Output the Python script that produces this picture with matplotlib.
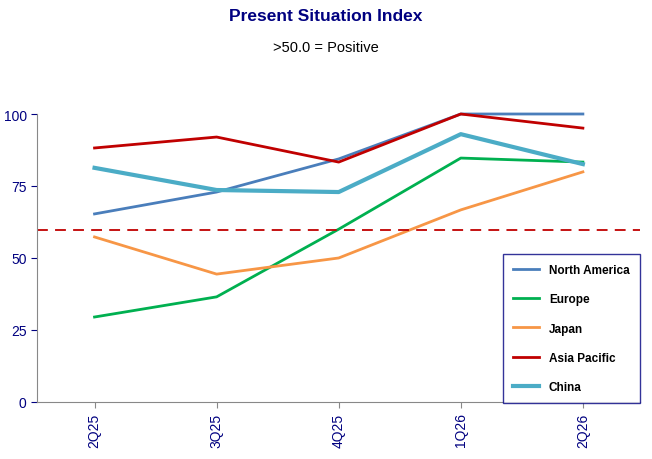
import matplotlib
matplotlib.use("Agg")
import matplotlib.pyplot as plt
plt.rcParams['font.family'] = ['Liberation Sans', 'DejaVu Sans']

quarters = ["2Q25", "3Q25", "4Q25", "1Q26", "2Q26"]
north_america = [65.3, 72.9, 84.4, 100, 100]
europe = [29.5, 36.5, 60.0, 84.7, 83.3]
japan = [57.3, 44.4, 50.0, 66.7, 79.9]
asia_pacific = [88.2, 92.0, 83.3, 100, 95.1]
china = [81.3, 73.6, 72.9, 93.0, 82.6]
threshold = 59.7

navy = "#000080"
fig = plt.figure(figsize=(6.52, 4.60), dpi=100)
ax = fig.add_axes([0.057, 0.124, 0.925, 0.626])
x = range(len(quarters))
series = [("North America", north_america, "#4a7ebb", 2),
          ("Europe", europe, "#00b050", 2),
          ("Japan", japan, "#f79646", 2),
          ("Asia Pacific", asia_pacific, "#c00000", 2),
          ("China", china, "#4bacc6", 3)]
for name, vals, c, lw in series:
    ax.plot(x, vals, color=c, lw=lw, label=name, clip_on=False)
ax.axhline(threshold, color="#c00000", ls=(0, (6, 4)), lw=1.3)
ax.set_xlim(-0.47, 4.47)
ax.set_ylim(0, 100)
ax.set_yticks([0, 25, 50, 75, 100])
ax.set_xticks(list(x))
ax.set_xticklabels(quarters, rotation=90, color=navy, fontsize=10)
ax.tick_params(axis="y", colors=navy, labelsize=10, length=4)
ax.tick_params(axis="x", length=4, colors="#888888", labelcolor=navy)
for s in ["top", "right"]:
    ax.spines[s].set_visible(False)
for s in ["left", "bottom"]:
    ax.spines[s].set_color("#888888")
leg = ax.legend(loc="lower right", bbox_to_anchor=(1.0, -0.005), frameon=True,
                fancybox=False, edgecolor=navy, prop={"weight": "bold", "size": 8.5},
                labelspacing=1.45, handlelength=2.2, borderpad=0.9, borderaxespad=0)
leg.get_frame().set_linewidth(1)
fig.text(0.5, 0.965, "Present Situation Index", ha="center", va="center",
         fontsize=12.5, weight="bold", color=navy)
fig.text(0.5, 0.895, ">50.0 = Positive", ha="center", va="center", fontsize=10.5)
fig.savefig("out.png", dpi=100)
